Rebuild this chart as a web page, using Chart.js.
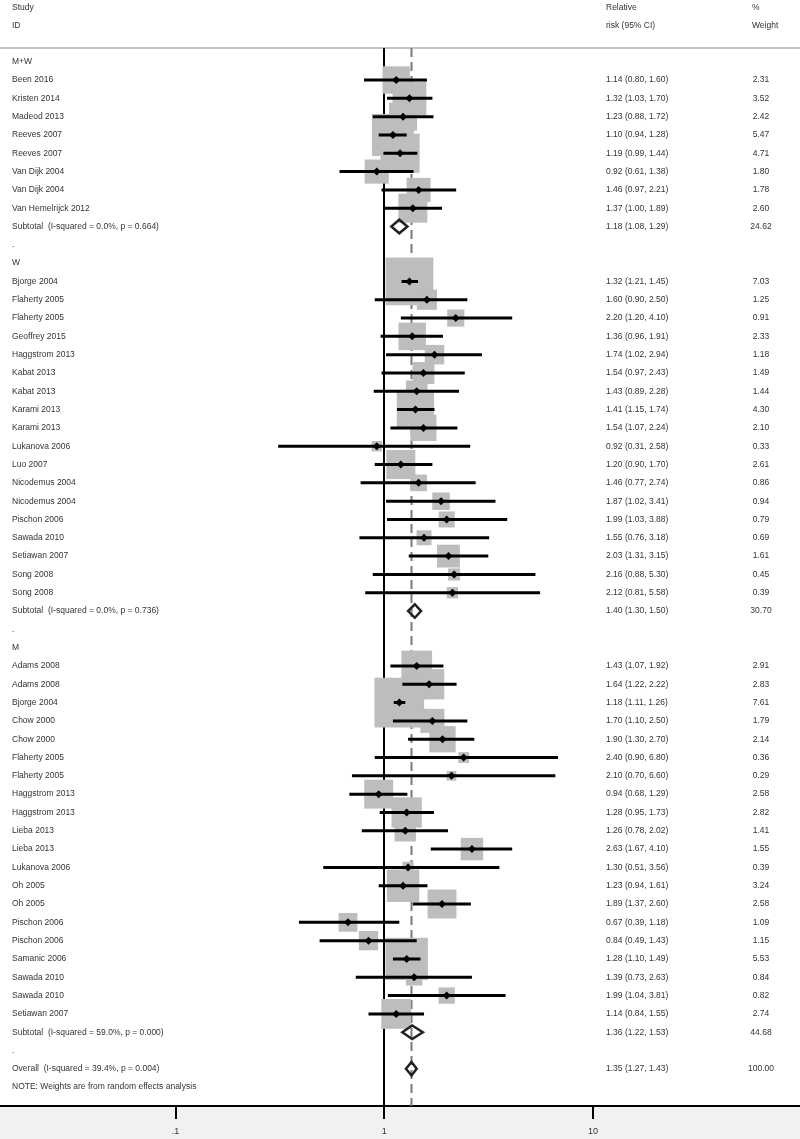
<!DOCTYPE html>
<html><head><meta charset="utf-8">
<script src="https://cdn.jsdelivr.net/npm/chart.js@4.4.0/dist/chart.umd.min.js"></script>
<style>html,body{margin:0;padding:0;background:#fff;}#wrap{width:800px;height:1139px;position:relative}</style>
</head><body><div id="wrap"><canvas id="c" width="800" height="1139"></canvas></div>
<script>
// ---- DATA ----
const studyLabels = [
 'M+W','Been 2016','Kristen 2014','Madeod 2013','Reeves 2007','Reeves 2007','Van Dijk 2004','Van Dijk 2004','Van Hemelrijck 2012',
 'Subtotal  (I-squared = 0.0%, p = 0.664)','.',
 'W','Bjorge 2004','Flaherty 2005','Flaherty 2005','Geoffrey 2015','Haggstrom 2013','Kabat 2013','Kabat 2013','Karami 2013','Karami 2013',
 'Lukanova 2006','Luo 2007','Nicodemus 2004','Nicodemus 2004','Pischon 2006','Sawada 2010','Setiawan 2007','Song 2008','Song 2008',
 'Subtotal  (I-squared = 0.0%, p = 0.736)','.',
 'M','Adams 2008','Adams 2008','Bjorge 2004','Chow 2000','Chow 2000','Flaherty 2005','Flaherty 2005','Haggstrom 2013','Haggstrom 2013',
 'Lieba 2013','Lieba 2013','Lukanova 2006','Oh 2005','Oh 2005','Pischon 2006','Pischon 2006','Samanic 2006','Sawada 2010','Sawada 2010','Setiawan 2007',
 'Subtotal  (I-squared = 59.0%, p = 0.000)','.',
 'Overall  (I-squared = 39.4%, p = 0.004)',
 'NOTE: Weights are from random effects analysis'
];
// row kinds: h = group header, s = study, t = subtotal/overall, b = blank, n = note
const rowKind = [
 'h','s','s','s','s','s','s','s','s','t','b',
 'h','s','s','s','s','s','s','s','s','s','s','s','s','s','s','s','s','s','s','t','b',
 'h','s','s','s','s','s','s','s','s','s','s','s','s','s','s','s','s','s','s','s','s','t','b',
 't','n'
];
const estimates = [
 null,1.14,1.32,1.23,1.10,1.19,0.92,1.46,1.37,1.18,null,
 null,1.32,1.60,2.20,1.36,1.74,1.54,1.43,1.41,1.54,0.92,1.20,1.46,1.87,1.99,1.55,2.03,2.16,2.12,1.40,null,
 null,1.43,1.64,1.18,1.70,1.90,2.40,2.10,0.94,1.28,1.26,2.63,1.30,1.23,1.89,0.67,0.84,1.28,1.39,1.99,1.14,1.36,null,
 1.35,null
];
const lowerCI = [
 null,0.80,1.03,0.88,0.94,0.99,0.61,0.97,1.00,1.08,null,
 null,1.21,0.90,1.20,0.96,1.02,0.97,0.89,1.15,1.07,0.31,0.90,0.77,1.02,1.03,0.76,1.31,0.88,0.81,1.30,null,
 null,1.07,1.22,1.11,1.10,1.30,0.90,0.70,0.68,0.95,0.78,1.67,0.51,0.94,1.37,0.39,0.49,1.10,0.73,1.04,0.84,1.22,null,
 1.27,null
];
const upperCI = [
 null,1.60,1.70,1.72,1.28,1.44,1.38,2.21,1.89,1.29,null,
 null,1.45,2.50,4.10,1.91,2.94,2.43,2.28,1.74,2.24,2.58,1.70,2.74,3.41,3.88,3.18,3.15,5.30,5.58,1.50,null,
 null,1.92,2.22,1.26,2.50,2.70,6.80,6.60,1.29,1.73,2.02,4.10,3.56,1.61,2.60,1.18,1.43,1.49,2.63,3.81,1.55,1.53,null,
 1.43,null
];
const weights = [
 null,2.31,3.52,2.42,5.47,4.71,1.80,1.78,2.60,24.62,null,
 null,7.03,1.25,0.91,2.33,1.18,1.49,1.44,4.30,2.10,0.33,2.61,0.86,0.94,0.79,0.69,1.61,0.45,0.39,30.70,null,
 null,2.91,2.83,7.61,1.79,2.14,0.36,0.29,2.58,2.82,1.41,1.55,0.39,3.24,2.58,1.09,1.15,5.53,0.84,0.82,2.74,44.68,null,
 100.00,null
];
const overallEstimate = 1.35;
const xTicks = [0.1, 1, 10];
const xTickLabels = ['.1', '1', '10'];
const headerLeft = ['Study', 'ID'];
const headerMid = ['Relative', 'risk (95% CI)'];
const headerRight = ['%', 'Weight'];

// ---- helpers ----
const fmt = v => v.toFixed(2);
const nRows = studyLabels.length;
const Y_MIN = -0.748, Y_MAX = 57.03;

const squarePts = [], squareR = [], ciPts = [], estPts = [], diaPts = [];
for (let i = 0; i < nRows; i++) {
  if (estimates[i] == null) continue;
  if (rowKind[i] === 's') {
    squarePts.push({x: estimates[i], y: i});
    squareR.push(18 * Math.sqrt(weights[i]) / (2 * Math.SQRT1_2));
    ciPts.push({x: lowerCI[i], y: i}, {x: upperCI[i], y: i}, {x: upperCI[i], y: null});
    estPts.push({x: estimates[i], y: i});
  } else if (rowKind[i] === 't') {
    const h = 0.37;
    diaPts.push({x: lowerCI[i], y: i}, {x: estimates[i], y: i - h}, {x: upperCI[i], y: i},
                {x: estimates[i], y: i + h}, {x: lowerCI[i], y: i}, {x: estimates[i], y: i - h}, {x: estimates[i], y: null});
  }
}

const FONT = '"Liberation Sans", Arial, sans-serif';
const textPlugin = {
  id: 'forestText',
  beforeDraw(chart) {
    const ctx = chart.ctx, a = chart.chartArea;
    ctx.save();
    ctx.fillStyle = '#ffffff';
    ctx.fillRect(0, 0, chart.width, chart.height);
    ctx.fillStyle = '#f1f1f1';
    ctx.fillRect(0, a.bottom, chart.width, chart.height - a.bottom);
    ctx.strokeStyle = '#c4c4c4';
    ctx.lineWidth = 2;
    ctx.beginPath(); ctx.moveTo(0, 48); ctx.lineTo(chart.width, 48); ctx.stroke();
    ctx.restore();
  },
  afterDraw(chart) {
    const ctx = chart.ctx, ys = chart.scales.y;
    ctx.save();
    ctx.font = '8.5px ' + FONT;
    ctx.fillStyle = '#333';
    ctx.textBaseline = 'middle';
    ctx.textAlign = 'left';
    const hy = [8, 26];
    headerLeft.forEach((t, k) => ctx.fillText(t, 12, hy[k]));
    headerMid.forEach((t, k) => ctx.fillText(t, 606, hy[k]));
    headerRight.forEach((t, k) => ctx.fillText(t, 752, hy[k]));
    for (let i = 0; i < nRows; i++) {
      const y = ys.getPixelForValue(i);
      ctx.textAlign = 'left';
      ctx.fillText(studyLabels[i], 12, y);
      if (estimates[i] != null) {
        ctx.fillText(fmt(estimates[i]) + ' (' + fmt(lowerCI[i]) + ', ' + fmt(upperCI[i]) + ')', 606, y);
        ctx.textAlign = 'center';
        ctx.fillText(fmt(weights[i]), 761, y);
      }
    }
    ctx.restore();
  }
};

new Chart(document.getElementById('c'), {
  type: 'scatter',
  data: {
    datasets: [
      {label: 'overall', data: [{x: overallEstimate, y: Y_MIN}, {x: overallEstimate, y: Y_MAX}], showLine: true,
       borderColor: '#7a7a7a', borderWidth: 2, borderDash: [9, 5], pointRadius: 0, order: 10},
      {label: 'weights', data: squarePts, pointStyle: 'rect', pointRadius: squareR, backgroundColor: '#bdbdbd',
       borderWidth: 0, pointBorderWidth: 0, order: 8},
      {label: 'ci', data: ciPts, showLine: true, spanGaps: false, borderColor: '#000', borderWidth: 3,
       pointRadius: 0, order: 7},
      {label: 'est', data: estPts, pointStyle: 'rectRot', pointRadius: 4, backgroundColor: '#000',
       borderColor: '#000', borderWidth: 0, order: 6},
      {label: 'pooled', data: diaPts, showLine: true, spanGaps: false, borderColor: '#222', borderWidth: 2.5,
       borderJoinStyle: 'miter', pointRadius: 0, order: 5}
    ]
  },
  options: {
    responsive: false, animation: false, devicePixelRatio: 1,
    layout: {autoPadding: false, padding: {top: 48, left: 0, right: 0, bottom: 0}},
    plugins: {legend: {display: false}, tooltip: {enabled: false}},
    events: [],
    scales: {
      x: {
        type: 'logarithmic', position: 'bottom',
        min: Math.pow(10, -384.3 / 208.7), max: Math.pow(10, (800 - 384.3) / 208.7),
        afterBuildTicks: s => { s.ticks = xTicks.map(v => ({value: v})); },
        afterFit: s => { s.height = 33; s.paddingLeft = 0; s.paddingRight = 0; },
        grid: {
          drawOnChartArea: true, drawTicks: true,
          color: c => (c.tick && c.tick.value === 1) ? '#000' : 'rgba(0,0,0,0)',
          lineWidth: 2, tickLength: 13, tickColor: '#000', tickWidth: 2
        },
        border: {display: true, color: '#000', width: 2},
        ticks: {
          autoSkip: false, maxRotation: 0, padding: 7, color: '#333',
          font: {size: 9, family: FONT},
          callback: (v, i) => xTickLabels[i]
        }
      },
      y: {type: 'linear', reverse: true, min: Y_MIN, max: Y_MAX, display: false}
    }
  },
  plugins: [textPlugin]
});
</script>
</body></html>
